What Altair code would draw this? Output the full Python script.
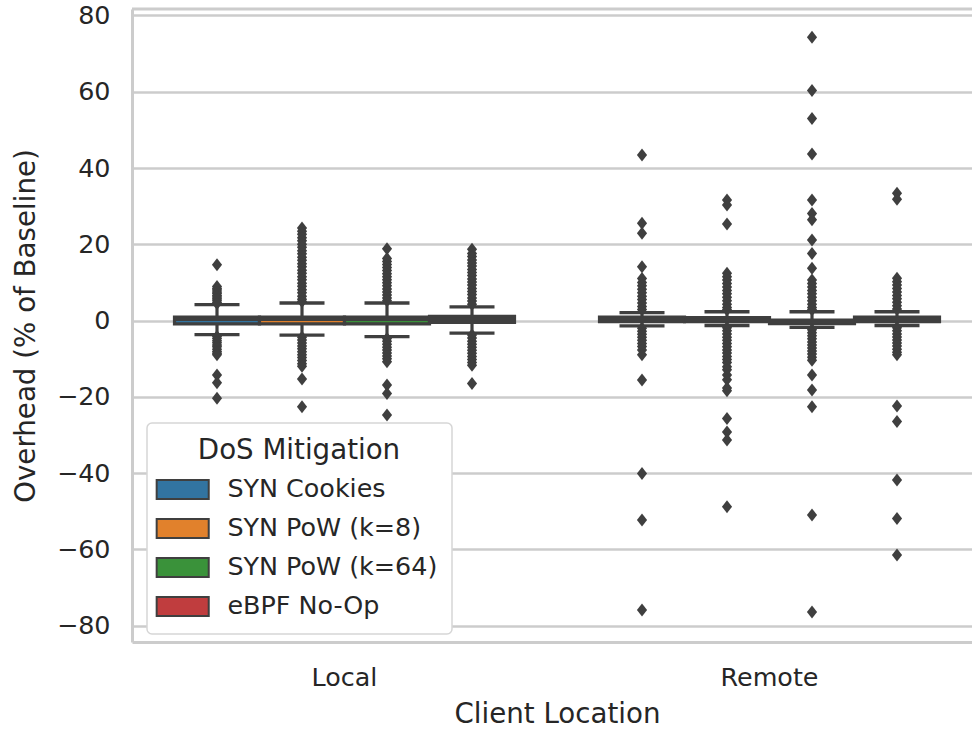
import altair as alt
import pandas as pd

# Categories
locations = ["Local", "Remote"]
mitigations = ["SYN Cookies", "SYN PoW (k=8)", "SYN PoW (k=64)", "eBPF No-Op"]
palette = ["#3274a1", "#e1812c", "#3a923a", "#c03d3e"]
y_ticks = [-80, -60, -40, -20, 0, 20, 40, 60, 80]

# Box summaries, one entry per (location, mitigation): Local x4 then Remote x4
box_location = ["Local"] * 4 + ["Remote"] * 4
box_mitigation = mitigations * 2
q1 = [-0.9, -0.9, -0.9, -0.5, -0.3, -0.3, -0.8, -0.3]
median = [0.3, 0.3, 0.3, 0.3, 0.3, 0.2, -0.3, 0.3]
q3 = [0.9, 0.9, 0.9, 1.1, 0.9, 0.8, 0.1, 0.9]
whisker_low = [-3.7, -3.8, -4.2, -3.3, -1.4, -1.3, -1.8, -1.3]
whisker_high = [4.2, 4.6, 4.6, 3.6, 2.1, 2.3, 2.3, 2.3]

# Outliers beyond the whiskers
fliers_local_cookies = [14.6, 8.9, 8.4, 8.0, 7.5, 7.1, 6.6, 6.2, 5.7, 5.3, 4.8, 4.5,
                        -4.2, -4.7, -5.3, -5.8, -6.4, -6.9, -7.5, -8.1, -8.6, -9.0,
                        -14.3, -16.3, -20.4]
fliers_local_pow8 = [24.3, 23.4, 22.6, 21.7, 20.9, 20.0, 19.2, 18.3, 17.5, 16.6, 15.8,
                     14.9, 14.1, 13.2, 12.4, 11.5, 10.7, 9.8, 9.0, 8.1, 7.3, 6.4, 5.6, 5.0,
                     -4.4, -5.1, -5.9, -6.7, -7.4, -8.2, -9.0, -9.7, -10.5, -11.3, -12.0,
                     -15.3, -22.6]
fliers_local_pow64 = [18.8, 16.3, 15.5, 14.7, 13.9, 13.1, 12.3, 11.5, 10.7, 9.9, 9.1,
                      8.3, 7.5, 6.7, 5.9, 5.2,
                      -4.7, -5.4, -6.2, -7.0, -7.7, -8.5, -9.3, -10.0, -10.8,
                      -16.9, -19.1, -24.8]
fliers_local_noop = [18.7, 17.6, 16.8, 15.9, 15.1, 14.3, 13.4, 12.6, 11.8, 10.9, 10.1,
                     9.3, 8.4, 7.6, 6.8, 5.9, 5.1, 4.3,
                     -3.8, -4.6, -5.4, -6.2, -7.0, -7.8, -8.6, -9.4, -10.2, -11.0, -11.7,
                     -16.5]
fliers_remote_cookies = [43.4, 25.5, 22.9, 14.1, 11.0, 10.0, 9.1, 8.2, 7.3, 6.4, 5.5,
                         4.6, 3.7, 2.9,
                         -2.0, -2.8, -3.6, -4.4, -5.2, -6.0, -6.8, -7.7, -9.0,
                         -15.6, -40.1, -52.3, -75.9]
fliers_remote_pow8 = [31.6, 30.3, 25.3, 12.4, 11.5, 10.6, 9.7, 8.8, 7.9, 7.0, 6.1, 5.2,
                      4.3, 3.4, 2.8,
                      -1.9, -2.7, -3.5, -4.4, -5.2, -6.0, -6.9, -7.7, -8.5, -9.4, -10.2,
                      -11.0, -12.1, -12.9, -14.3, -15.5, -17.7, -18.4,
                      -25.7, -29.2, -31.3, -48.8]
fliers_remote_pow64 = [74.3, 60.3, 53.0, 43.7, 31.6, 28.1, 26.4, 21.1, 17.6, 13.7, 10.6,
                       9.7, 8.8, 7.9, 7.0, 6.1, 5.2, 4.3, 3.4, 2.8,
                       -2.4, -3.2, -4.0, -4.8, -5.6, -6.4, -7.2, -8.0, -8.8, -9.6, -10.4,
                       -14.3, -18.2, -22.6, -51.0, -76.4]
fliers_remote_noop = [33.4, 31.8, 11.1, 10.2, 9.3, 8.4, 7.5, 6.6, 5.7, 4.8, 3.9, 3.0,
                      -1.9, -2.7, -3.5, -4.3, -5.1, -5.9, -6.7, -7.5, -8.3, -9.0,
                      -22.4, -26.5, -41.8, -51.9, -61.5]

flier_lists = [
    fliers_local_cookies, fliers_local_pow8, fliers_local_pow64, fliers_local_noop,
    fliers_remote_cookies, fliers_remote_pow8, fliers_remote_pow64, fliers_remote_noop,
]

boxes = pd.DataFrame({
    "location": box_location,
    "mitigation": box_mitigation,
    "q1": q1,
    "median": median,
    "q3": q3,
    "lo": whisker_low,
    "hi": whisker_high,
})

fliers = pd.DataFrame(
    [
        {"location": loc, "mitigation": mit, "value": v}
        for loc, mit, vals in zip(box_location, box_mitigation, flier_lists)
        for v in vals
    ]
)

GRAY = "#3f3f3f"
TEXT = "#262626"
LIGHT = "#cccccc"
FONT = "DejaVu Sans"

x_enc = alt.X(
    "location:N",
    sort=locations,
    scale=alt.Scale(domain=locations, range=[0, 850], paddingInner=0, paddingOuter=0),
    axis=alt.Axis(title="Client Location", labelAngle=0),
)
xoff_enc = alt.XOffset(
    "mitigation:N",
    scale=alt.Scale(domain=mitigations, paddingInner=0, paddingOuter=0.5),
)
y_scale = alt.Scale(domain=[-84.3, 81.7], nice=False, zero=False)
y_axis = alt.Axis(title="Overhead (% of Baseline)", values=y_ticks)

base = alt.Chart(boxes).encode(x=x_enc, xOffset=xoff_enc)

whiskers = base.mark_rule(color=GRAY, strokeWidth=3.2).encode(
    y=alt.Y("lo:Q", scale=y_scale, axis=y_axis),
    y2="hi:Q",
)

caps_low = base.mark_tick(color=GRAY, size=45, thickness=3.3, opacity=1).encode(
    y=alt.Y("lo:Q", scale=y_scale)
)
caps_high = base.mark_tick(color=GRAY, size=45, thickness=3.3, opacity=1).encode(
    y=alt.Y("hi:Q", scale=y_scale)
)

box = base.mark_bar(stroke=GRAY, strokeWidth=3.2, opacity=1).encode(
    y=alt.Y("q1:Q", scale=y_scale),
    y2="q3:Q",
    color=alt.Color(
        "mitigation:N",
        scale=alt.Scale(domain=mitigations, range=palette),
        legend=alt.Legend(title="DoS Mitigation"),
    ),
)

medians = base.mark_tick(color=GRAY, size=85, thickness=3.2, opacity=1).encode(
    y=alt.Y("median:Q", scale=y_scale)
)

outliers = (
    alt.Chart(fliers)
    .mark_point(
        shape="M0,-1L0.78,0L0,1L-0.78,0Z",
        filled=True,
        size=169,
        color=GRAY,
        opacity=1,
    )
    .encode(x=x_enc, xOffset=xoff_enc, y=alt.Y("value:Q", scale=y_scale))
)

top_spine = (
    alt.Chart(pd.DataFrame({"edge": ["top"]}))
    .mark_rule(color=LIGHT, strokeWidth=3)
    .encode(x=alt.value(0), x2=alt.value(850), y=alt.value(0))
)

chart = (
    alt.layer(whiskers, caps_low, caps_high, box, medians, outliers, top_spine)
    .properties(
        width=840,
        height=633,
        autosize=alt.AutoSizeParams(type="none"),
        padding={"left": 132, "top": 9, "right": 0, "bottom": 88},
        background="white",
    )
    .configure_view(stroke=None)
    .configure_axis(
        labelFont=FONT,
        titleFont=FONT,
        labelFontSize=25.4,
        titleFontSize=27.7,
        labelColor=TEXT,
        titleColor=TEXT,
        titleFontWeight="normal",
        domainColor=LIGHT,
        domainWidth=3,
        gridColor=LIGHT,
        gridWidth=2.3,
        ticks=False,
    )
    .configure_axisX(grid=False, labelPadding=23, titlePadding=10)
    .configure_axisY(grid=True, labelPadding=22, titlePadding=16)
    .configure_legend(
        orient="none",
        legendX=15,
        legendY=414,
        fillColor="white",
        strokeColor="#d6d6d6",
        strokeWidth=1.5,
        cornerRadius=5,
        padding=14,
        titleFont=FONT,
        labelFont=FONT,
        titleFontSize=27.7,
        labelFontSize=25.4,
        titleColor=TEXT,
        labelColor=TEXT,
        titleFontWeight="normal",
        titleAnchor="middle",
        titlePadding=12,
        titleLimit=0,
        labelLimit=0,
        symbolType="M-2.74,-1H2.74V1H-2.74Z",
        symbolSize=361,
        symbolStrokeColor=GRAY,
        symbolStrokeWidth=2,
        symbolOpacity=1,
        symbolOffset=9,
        labelOffset=32,
        rowPadding=11,
    )
)

chart.save("out.html", embed_options={"renderer": "svg", "actions": False})
